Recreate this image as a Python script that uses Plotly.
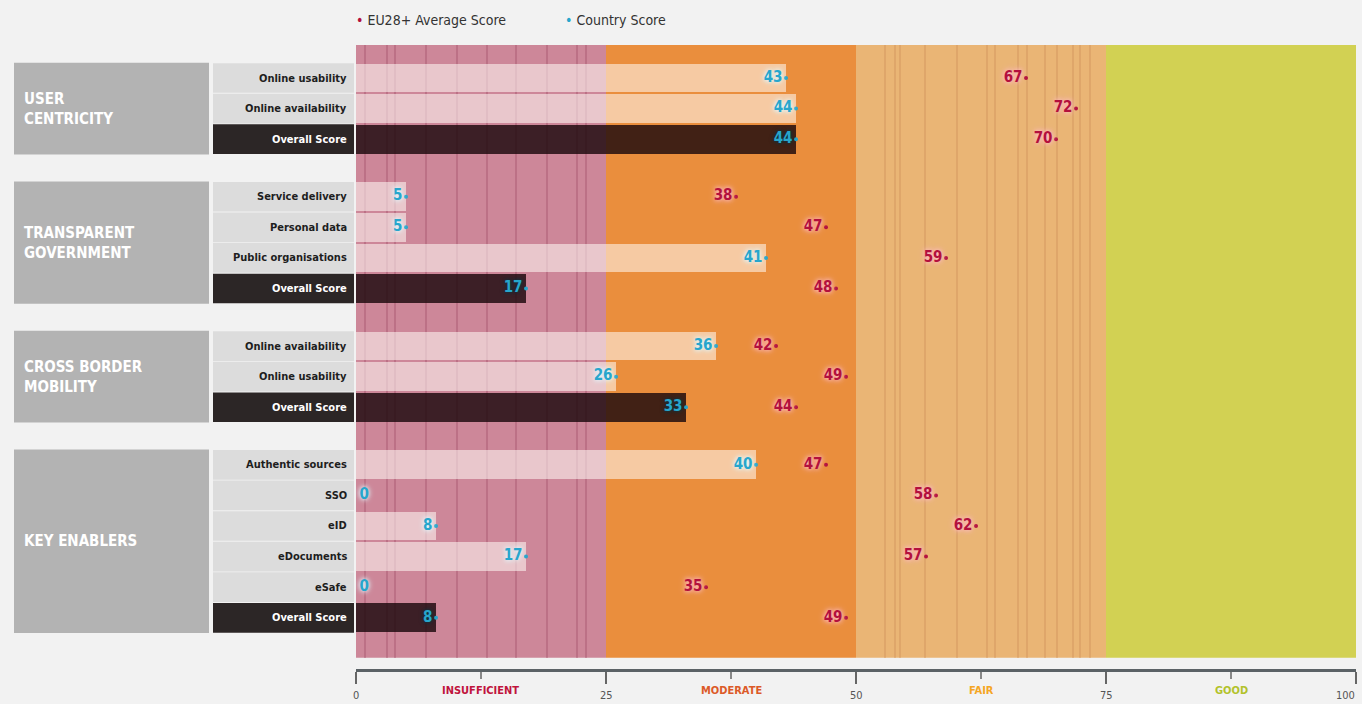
import plotly.graph_objects as go

# ---- data -------------------------------------------------------------
groups = ["USER<br>CENTRICITY", "TRANSPARENT<br>GOVERNMENT",
          "CROSS BORDER<br>MOBILITY", "KEY ENABLERS"]

uc_rows = ["Online usability", "Online availability", "Overall Score"]
tg_rows = ["Service delivery", "Personal data", "Public organisations", "Overall Score"]
cbm_rows = ["Online availability", "Online usability", "Overall Score"]
ke_rows = ["Authentic sources", "SSO", "eID", "eDocuments", "eSafe", "Overall Score"]

uc_country = [43, 44, 44]
tg_country = [5, 5, 41, 17]
cbm_country = [36, 26, 33]
ke_country = [40, 0, 8, 17, 0, 8]

uc_eu = [67, 72, 70]
tg_eu = [38, 47, 59, 48]
cbm_eu = [42, 49, 44]
ke_eu = [47, 58, 62, 57, 35, 49]

zone_edges = [0, 25, 50, 75, 100]
zone_names = ["INSUFFICIENT", "MODERATE", "FAIR", "GOOD"]
tick_vals = [0, 25, 50, 75, 100]
tick_text = ["0", "25", "50", "75", "100"]

# ---- styling ----------------------------------------------------------
FONT = "Liberation Sans Narrow, DejaVu Sans Condensed, Arial Narrow, Roboto, sans-serif"
W, H = 1362, 704
BG = "#f2f2f2"
zone_fill = ["#cd8799", "#ea8e3d", "#eab575", "#d2d153"]
zone_text = ["#c0143c", "#dc5a28", "#f5a623", "#b2c22b"]
EU_COL = "#b3103d"
CTRY_COL = "#27a6cc"
LIGHT_BAR = "rgba(255,250,245,0.56)"
DARK_BAR = "rgba(28,8,12,0.82)"

ROW_PX = 30.6       # height of one row in pixels
FIRST_PX = 78       # centre of the first row
GAP = 0.88          # blank space between groups, in rows

row_sets = [uc_rows, tg_rows, cbm_rows, ke_rows]
country_sets = [uc_country, tg_country, cbm_country, ke_country]
eu_sets = [uc_eu, tg_eu, cbm_eu, ke_eu]

labels, country, eu, ypos, group_of = [], [], [], [], []
k = 0
for g, rows in enumerate(row_sets):
    for j, name in enumerate(rows):
        labels.append(name)
        country.append(country_sets[g][j])
        eu.append(eu_sets[g][j])
        ypos.append(k + GAP * g)
        group_of.append(g)
        k += 1

is_overall = [name == "Overall Score" for name in labels]

fig = go.Figure()

# bars (country scores)
fig.add_trace(go.Bar(
    x=country, y=ypos, orientation="h", base=0, width=0.94,
    marker=dict(color=[DARK_BAR if o else LIGHT_BAR for o in is_overall], line=dict(width=0)),
    hoverinfo="skip", showlegend=False,
))

# country score labels, split so the halo suits the bar underneath
for dark in (False, True):
    xs = [v for v, o in zip(country, is_overall) if o == dark]
    ys = [y for y, o in zip(ypos, is_overall) if o == dark]
    halo = ("0px 0px 3px #0d3440, 0px 0px 5px #0d3440" if dark
            else "0px 0px 4px #e8fbff, 0px 0px 6px #d8f4ff")
    fig.add_trace(go.Scatter(
        x=xs, y=ys, mode="markers+text",
        text=[str(v) for v in xs],
        textposition=["middle left" if v >= 3 else "middle right" for v in xs],
        marker=dict(size=4, color=[CTRY_COL if v >= 3 else "rgba(0,0,0,0)" for v in xs]),
        textfont=dict(family=FONT, size=15, color=CTRY_COL, weight="bold", shadow=halo),
        hoverinfo="skip", showlegend=False,
    ))

# EU28+ average labels
fig.add_trace(go.Scatter(
    x=eu, y=ypos, mode="markers+text",
    text=[str(v) for v in eu], textposition="middle left",
    marker=dict(size=4, color=EU_COL),
    textfont=dict(family=FONT, size=15, color=EU_COL, weight="bold",
                  shadow="0px 0px 4px #ffc0cc, 0px 0px 7px #ffb0c0"),
    hoverinfo="skip", showlegend=False,
))

shapes = []
zone_top = ypos[0] - 1.08
zone_bot = ypos[-1] + 1.31

# score zones
for i in range(4):
    shapes.append(dict(type="rect", xref="x", yref="y", layer="below",
                       x0=zone_edges[i], x1=zone_edges[i + 1], y0=zone_top, y1=zone_bot,
                       fillcolor=zone_fill[i], line=dict(width=0)))

# texture stripes in the insufficient and fair zones
pink_stripes = [0.9, 3.1, 3.9, 7.0, 10.1, 13.1, 16.0, 19.1, 22.1, 23.0]
tan_stripes = [52.9, 53.9, 54.4, 56.9, 60.1, 63.1, 63.9, 66.2, 67.1, 68.9, 70.1, 71.7, 72.4, 73.4]
for s in pink_stripes:
    shapes.append(dict(type="line", xref="x", yref="y", layer="below", x0=s, x1=s,
                       y0=zone_top, y1=zone_bot, line=dict(color="#b66a80", width=1.5)))
for s in tan_stripes:
    shapes.append(dict(type="line", xref="x", yref="y", layer="below", x0=s, x1=s,
                       y0=zone_top, y1=zone_bot, line=dict(color="#dba267", width=1.5)))

# group panels and row-label panels on the left
for g in range(4):
    ys = [y for y, gg in zip(ypos, group_of) if gg == g]
    shapes.append(dict(type="rect", xref="paper", yref="y", layer="below",
                       x0=14 / W, x1=209 / W, y0=min(ys) - 0.5, y1=max(ys) + 0.5,
                       fillcolor="#b3b3b3", line=dict(width=0)))
for y, o in zip(ypos, is_overall):
    shapes.append(dict(type="rect", xref="paper", yref="y", layer="below",
                       x0=213 / W, x1=354 / W, y0=y - 0.485, y1=y + 0.485,
                       fillcolor="#2c2626" if o else "#dcdcdc", line=dict(width=0)))

annotations = []
for g, name in enumerate(groups):
    ys = [y for y, gg in zip(ypos, group_of) if gg == g]
    annotations.append(dict(xref="paper", yref="y", x=22 / W, y=(min(ys) + max(ys)) / 2,
                            xanchor="left", yanchor="middle", align="left", showarrow=False,
                            text=f"<b>{name}</b>",
                            font=dict(family=FONT, size=15, color="white")))
for name, y, o in zip(labels, ypos, is_overall):
    annotations.append(dict(xref="paper", yref="y", x=349 / W, y=y,
                            xanchor="right", yanchor="middle", showarrow=False,
                            text=f"<b>{name}</b>",
                            font=dict(family=FONT, size=11, color="white" if o else "#1e1e1e")))

# zone names under the axis
for i, name in enumerate(zone_names):
    annotations.append(dict(xref="x", yref="paper", x=(zone_edges[i] + zone_edges[i + 1]) / 2,
                            y=(H - 690) / H, xanchor="center", yanchor="middle", showarrow=False,
                            text=f"<b>{name}</b>",
                            font=dict(family=FONT, size=11, color=zone_text[i])))

# axis numbers, kept inside the page
for v, t in zip(tick_vals, tick_text):
    annotations.append(dict(xref="x", yref="paper", x=v, y=1.5 / H,
                            xanchor="right" if v == tick_vals[-1] else "center",
                            yanchor="bottom", showarrow=False, text=t,
                            borderpad=0,
                            font=dict(family=FONT, size=11, color="#555555")))

# legend
annotations.append(dict(xref="paper", yref="paper", x=354 / W, y=1 - 20 / H,
                        xanchor="left", yanchor="middle", showarrow=False,
                        text=f"<span style='color:{EU_COL}'>•</span> EU28+ Average Score",
                        font=dict(family=FONT, size=14, color="#333333")))
annotations.append(dict(xref="paper", yref="paper", x=563 / W, y=1 - 20 / H,
                        xanchor="left", yanchor="middle", showarrow=False,
                        text=f"<span style='color:{CTRY_COL}'>•</span> Country Score",
                        font=dict(family=FONT, size=14, color="#333333")))

y_top = -FIRST_PX / ROW_PX
y_bot = (H - FIRST_PX) / ROW_PX

fig.update_layout(
    width=W, height=H, margin=dict(l=0, r=0, t=0, b=0),
    paper_bgcolor=BG, plot_bgcolor="rgba(0,0,0,0)",
    shapes=shapes, annotations=annotations, bargap=0,
    xaxis=dict(domain=[356 / W, 1356 / W], range=[0, 100], anchor="free",
               position=(H - 670) / H, showline=True, linewidth=3, linecolor="#5b6266",
               ticks="outside", ticklen=12, tickwidth=1.5, tickcolor="#666666",
               tickvals=tick_vals, showticklabels=False,
               minor=dict(tickvals=[12.5, 37.5, 62.5, 87.5], ticklen=7, tickwidth=1.5,
                          tickcolor="#888888", ticks="outside"),
               showgrid=False, zeroline=False, fixedrange=True),
    yaxis=dict(domain=[0, 1], range=[y_bot, y_top], visible=False, fixedrange=True),
    font=dict(family=FONT),
)

fig.write_html("out.html")
